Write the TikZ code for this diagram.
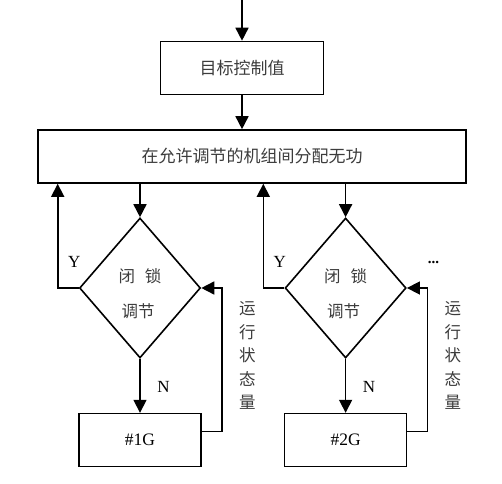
\documentclass[tikz,border=0pt]{standalone}
\usepackage{fontspec}
\setmainfont{Liberation Serif}
\newfontfamily\cjkfont{Noto Sans CJK SC}
\usetikzlibrary{shapes.geometric, arrows.meta, positioning}
\definecolor{txtgray}{RGB}{60,60,60}

\begin{document}
\begin{tikzpicture}[x=1pt, y=1pt,
  box/.style     = {rectangle, draw, line width=1.6pt, minimum height=53pt, inner sep=0pt,
                    font=\cjkfont\fontsize{17}{20}\selectfont, text=txtgray},
  genbox/.style  = {box, minimum width=122pt, font=\fontsize{17.5}{20}\selectfont, text=black},
  lockdia/.style = {diamond, draw, line width=1.6pt, aspect=0.864, minimum width=121pt,
                    minimum height=140pt, inner sep=0pt, align=center,
                    font=\cjkfont\fontsize{16.5}{35}\selectfont, text=txtgray},
  yn/.style      = {font=\fontsize{17}{20}\selectfont, text=black, inner sep=0pt},
  vtext/.style   = {align=center, inner sep=0pt, font=\cjkfont\fontsize{16.5}{23.5}\selectfont, text=txtgray},
  arr/.style     = {-{Triangle[length=13pt,width=13pt]}, line width=1.6pt},
]
\useasboundingbox (0,0) rectangle (502,483);

%% --- Top boxes ---
\coordinate (start) at (242,483);
\node[box, minimum width=163pt] (target) at (242,415)   {目标控制值};
\node[box, minimum width=428pt] (alloc)  at (252,326.5) {在允许调节的机组间分配无功};

%% --- Unit branches ---
\node[lockdia] (lock1) at (140,195) {\rule{0pt}{26pt}闭\hspace{0.6em}锁\\调节\kern4pt};
\node[genbox, below=54pt of lock1] (gen1) {\#1G};
\node[lockdia, right=83pt of lock1] (lock2) {\rule{0pt}{26pt}闭\hspace{0.6em}锁\\调节\kern4pt};
\node[genbox, below=54pt of lock2] (gen2) {\#2G};

%% --- Labels ---
\node[yn] (yes1) at ([xshift=-4.5pt,yshift=26pt]lock1.west) {Y};
\node[yn] (yes2) at ([xshift=-4.5pt,yshift=26pt]lock2.west) {Y};
\node[yn] (no1)  at ([xshift=23.5pt,yshift=-28pt]lock1.south) {N};
\node[yn] (no2)  at ([xshift=23.5pt,yshift=-28pt]lock2.south) {N};
\node[vtext] (state1) at ([xshift=46pt,yshift=-67.5pt]lock1.east) {运\\行\\状\\态\\量};
\node[vtext] (state2) at ([xshift=46pt,yshift=-67.5pt]lock2.east) {运\\行\\状\\态\\量};
\node[yn, anchor=base, font=\bfseries\fontsize{15}{16}\selectfont] (more) at ([xshift=26.5pt,yshift=25pt]lock2.east) {...};

%% --- Arrows ---
\draw[arr] (start) -- (target);
\draw[arr] (target.south) -- (target.south |- alloc.north);
\foreach \n in {1,2} {
  \draw[arr] (alloc.south -| lock\n.north) -- (lock\n.north);
  \draw[arr] (lock\n.west) -| ([xshift=-21pt]lock\n.west |- alloc.south);
  \draw[arr] (lock\n.south) -- (gen\n);
  \draw[arr] ([yshift=8.5pt]gen\n.east) -- ++(20,0) |- (lock\n.east);
}

\end{tikzpicture}
\end{document}
